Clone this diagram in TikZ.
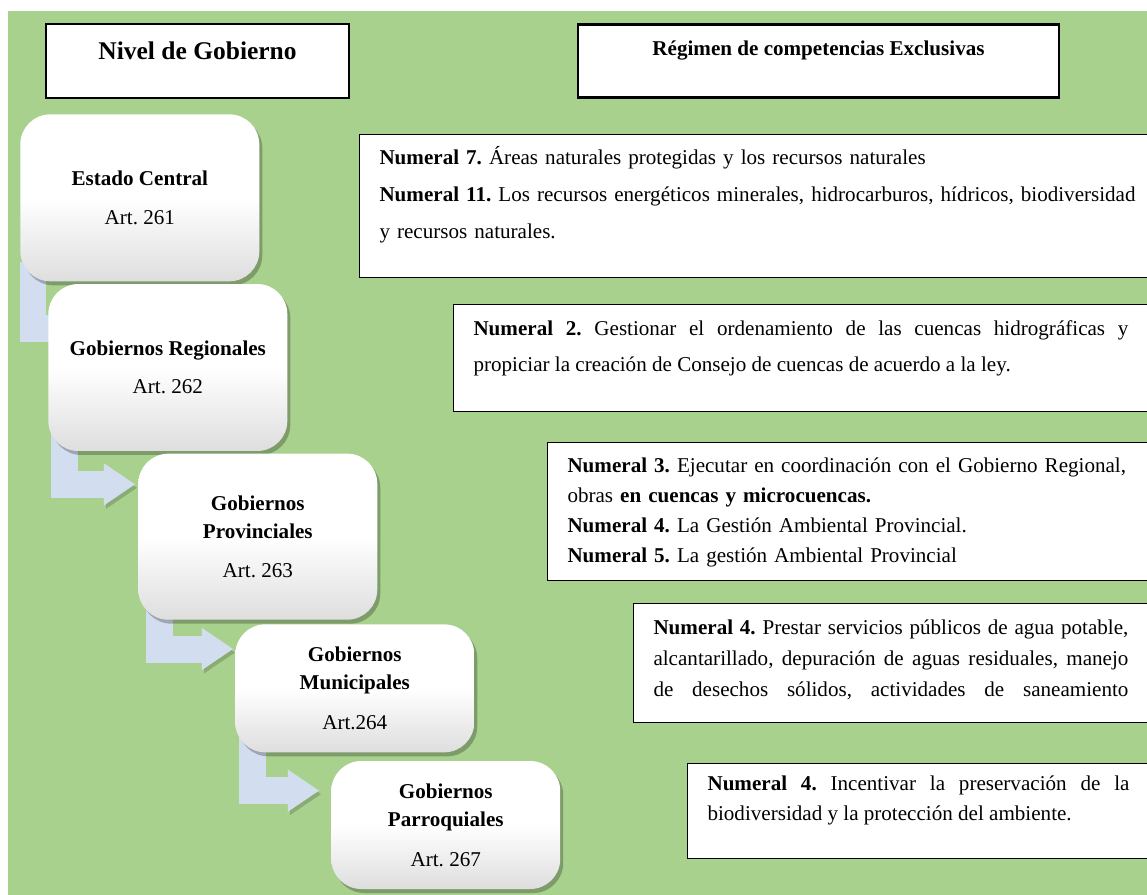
\documentclass[tikz,border=0pt]{standalone}
\usepackage{fontspec}
\setmainfont{Liberation Serif}
\usetikzlibrary{arrows.meta,positioning,calc,shadows,backgrounds}
\definecolor{pagegreen}{HTML}{A9D18E}
\definecolor{arrowblue}{HTML}{D2DEEF}
\frenchspacing

\begin{document}
\begin{tikzpicture}[
  x=0.02cm, y=-0.02cm,
  headbox/.style={draw, line width=1.2pt, fill=white, inner ysep=0pt, anchor=north west},
  govbox/.style={rounded corners=0.6cm, minimum width=4.78cm, align=center, anchor=north west,
    top color=white, bottom color=black!13, middle color=white,
    drop shadow={shadow xshift=0.06cm, shadow yshift=-0.08cm, opacity=0.25, fill=black},
    font=\fontsize{12}{16}\selectfont},
  numbox/.style={draw, fill=white, line width=0.6pt, anchor=north west, inner xsep=0.4cm, inner ysep=0pt},
  bendarr/.style={draw=arrowblue, line width=0.54cm, line join=miter,
    -{Triangle[length=0.62cm, width=0.84cm, line width=0pt]},
    preaction={draw=black, opacity=0.18, transform canvas={xshift=0.04cm, yshift=-0.07cm}}},
]
  \useasboundingbox (0,0) rectangle (1147,895);

  % headers
  \node[headbox, minimum width=6.06cm, text height=0.70cm, text depth=0.78cm,
    font=\fontsize{14.5}{17}\selectfont\bfseries] (nivel) at (45,23) {Nivel de Gobierno};
  \node[headbox, right=4.54cm of nivel, minimum width=9.62cm, text height=0.62cm, text depth=0.84cm,
    font=\fontsize{12}{14}\selectfont\bfseries] (regimen) {Régimen de competencias Exclusivas};

  % levels of government
  \node[govbox, minimum height=3.34cm] (ec) at (20,114) {\textbf{Estado Central}\\[6pt]Art. 261};
  \node[govbox, minimum height=3.34cm] (gr) at ([xshift=0.56cm, yshift=-0.04cm]ec.south west)
    {\textbf{Gobiernos Regionales}\\[6pt]Art. 262};
  \node[govbox, minimum height=3.32cm] (gp) at ([xshift=1.8cm, yshift=-0.04cm]gr.south west)
    {\textbf{Gobiernos}\\\textbf{Provinciales}\\[6.5pt]Art. 263};
  \node[govbox, minimum height=2.56cm] (gm) at ([xshift=1.94cm, yshift=-0.08cm]gp.south west)
    {\textbf{Gobiernos}\\\textbf{Municipales}\\[6.5pt]Art.264};
  \node[govbox, minimum height=2.56cm, minimum width=4.58cm] (gq) at ([xshift=1.92cm, yshift=-0.16cm]gm.south west)
    {\textbf{Gobiernos}\\\textbf{Parroquiales}\\[6.5pt]Art. 267};

  % exclusive competences
  \node[numbox, align=left, text width=15.3cm, text height=0.6cm, text depth=2.26cm,
    font=\fontsize{12}{21}\selectfont] (n1) at (359,134)
    {\textbf{Numeral 7.} Áreas naturales protegidas y los recursos naturales\\
     \textbf{Numeral 11.} Los recursos energéticos minerales, hidrocarburos, hídricos, biodiversidad\\
     y recursos naturales.};
  \node[numbox, align=justify, text width=13.1cm, text height=0.62cm, text depth=1.52cm,
    font=\fontsize{12}{20.4}\selectfont] (n2) at (453,304)
    {\textbf{Numeral 2.} Gestionar el ordenamiento de las cuencas hidrográficas y\linebreak
     propiciar la creación de Consejo de cuencas de acuerdo a la ley.};
  \node[numbox, align=left, text width=11.4cm, text height=0.6cm, text depth=2.16cm,
    font=\fontsize{12}{17}\selectfont] (n3) at (547,442)
    {\textbf{Numeral 3.} Ejecutar en coordinación con el Gobierno Regional,\\
     obras \textbf{en cuencas y microcuencas.}\\
     \textbf{Numeral 4.} La Gestión Ambiental Provincial.\\
     \textbf{Numeral 5.} La gestión Ambiental Provincial};
  \node[numbox, align=justify, text width=9.5cm, text height=0.62cm, text depth=1.76cm,
    font=\fontsize{12}{17.6}\selectfont] (n4) at (633,603)
    {\textbf{Numeral 4.} Prestar servicios públicos de agua potable,\linebreak
     alcantarillado, depuración de aguas residuales, manejo\linebreak
     de desechos sólidos, actividades de saneamiento\linebreak};
  \node[numbox, align=justify, text width=8.44cm, text height=0.54cm, text depth=1.36cm,
    font=\fontsize{12}{17}\selectfont] (n5) at (687,763)
    {\textbf{Numeral 4.} Incentivar la preservación de la\linebreak
     biodiversidad y la protección del ambiente.};

  \begin{scope}[on background layer]
    \fill[pagegreen] (8,11) rectangle (1147,895);
    \draw[bendarr] ($(ec.south west)+(13,-20)$) |- ($(gr.north west)+(60,45)$);
    \draw[bendarr] ($(gr.south west)+(17,-20)$) |- ($(gp.north west)+(-3,31)$);
    \draw[bendarr] ($(gp.south west)+(22,-20)$) |- ($(gm.north west)+(-2,25)$);
    \draw[bendarr] ($(gm.south west)+(18,-20)$) |- ($(gq.north west)+(-12,30)$);
  \end{scope}
\end{tikzpicture}
\end{document}
